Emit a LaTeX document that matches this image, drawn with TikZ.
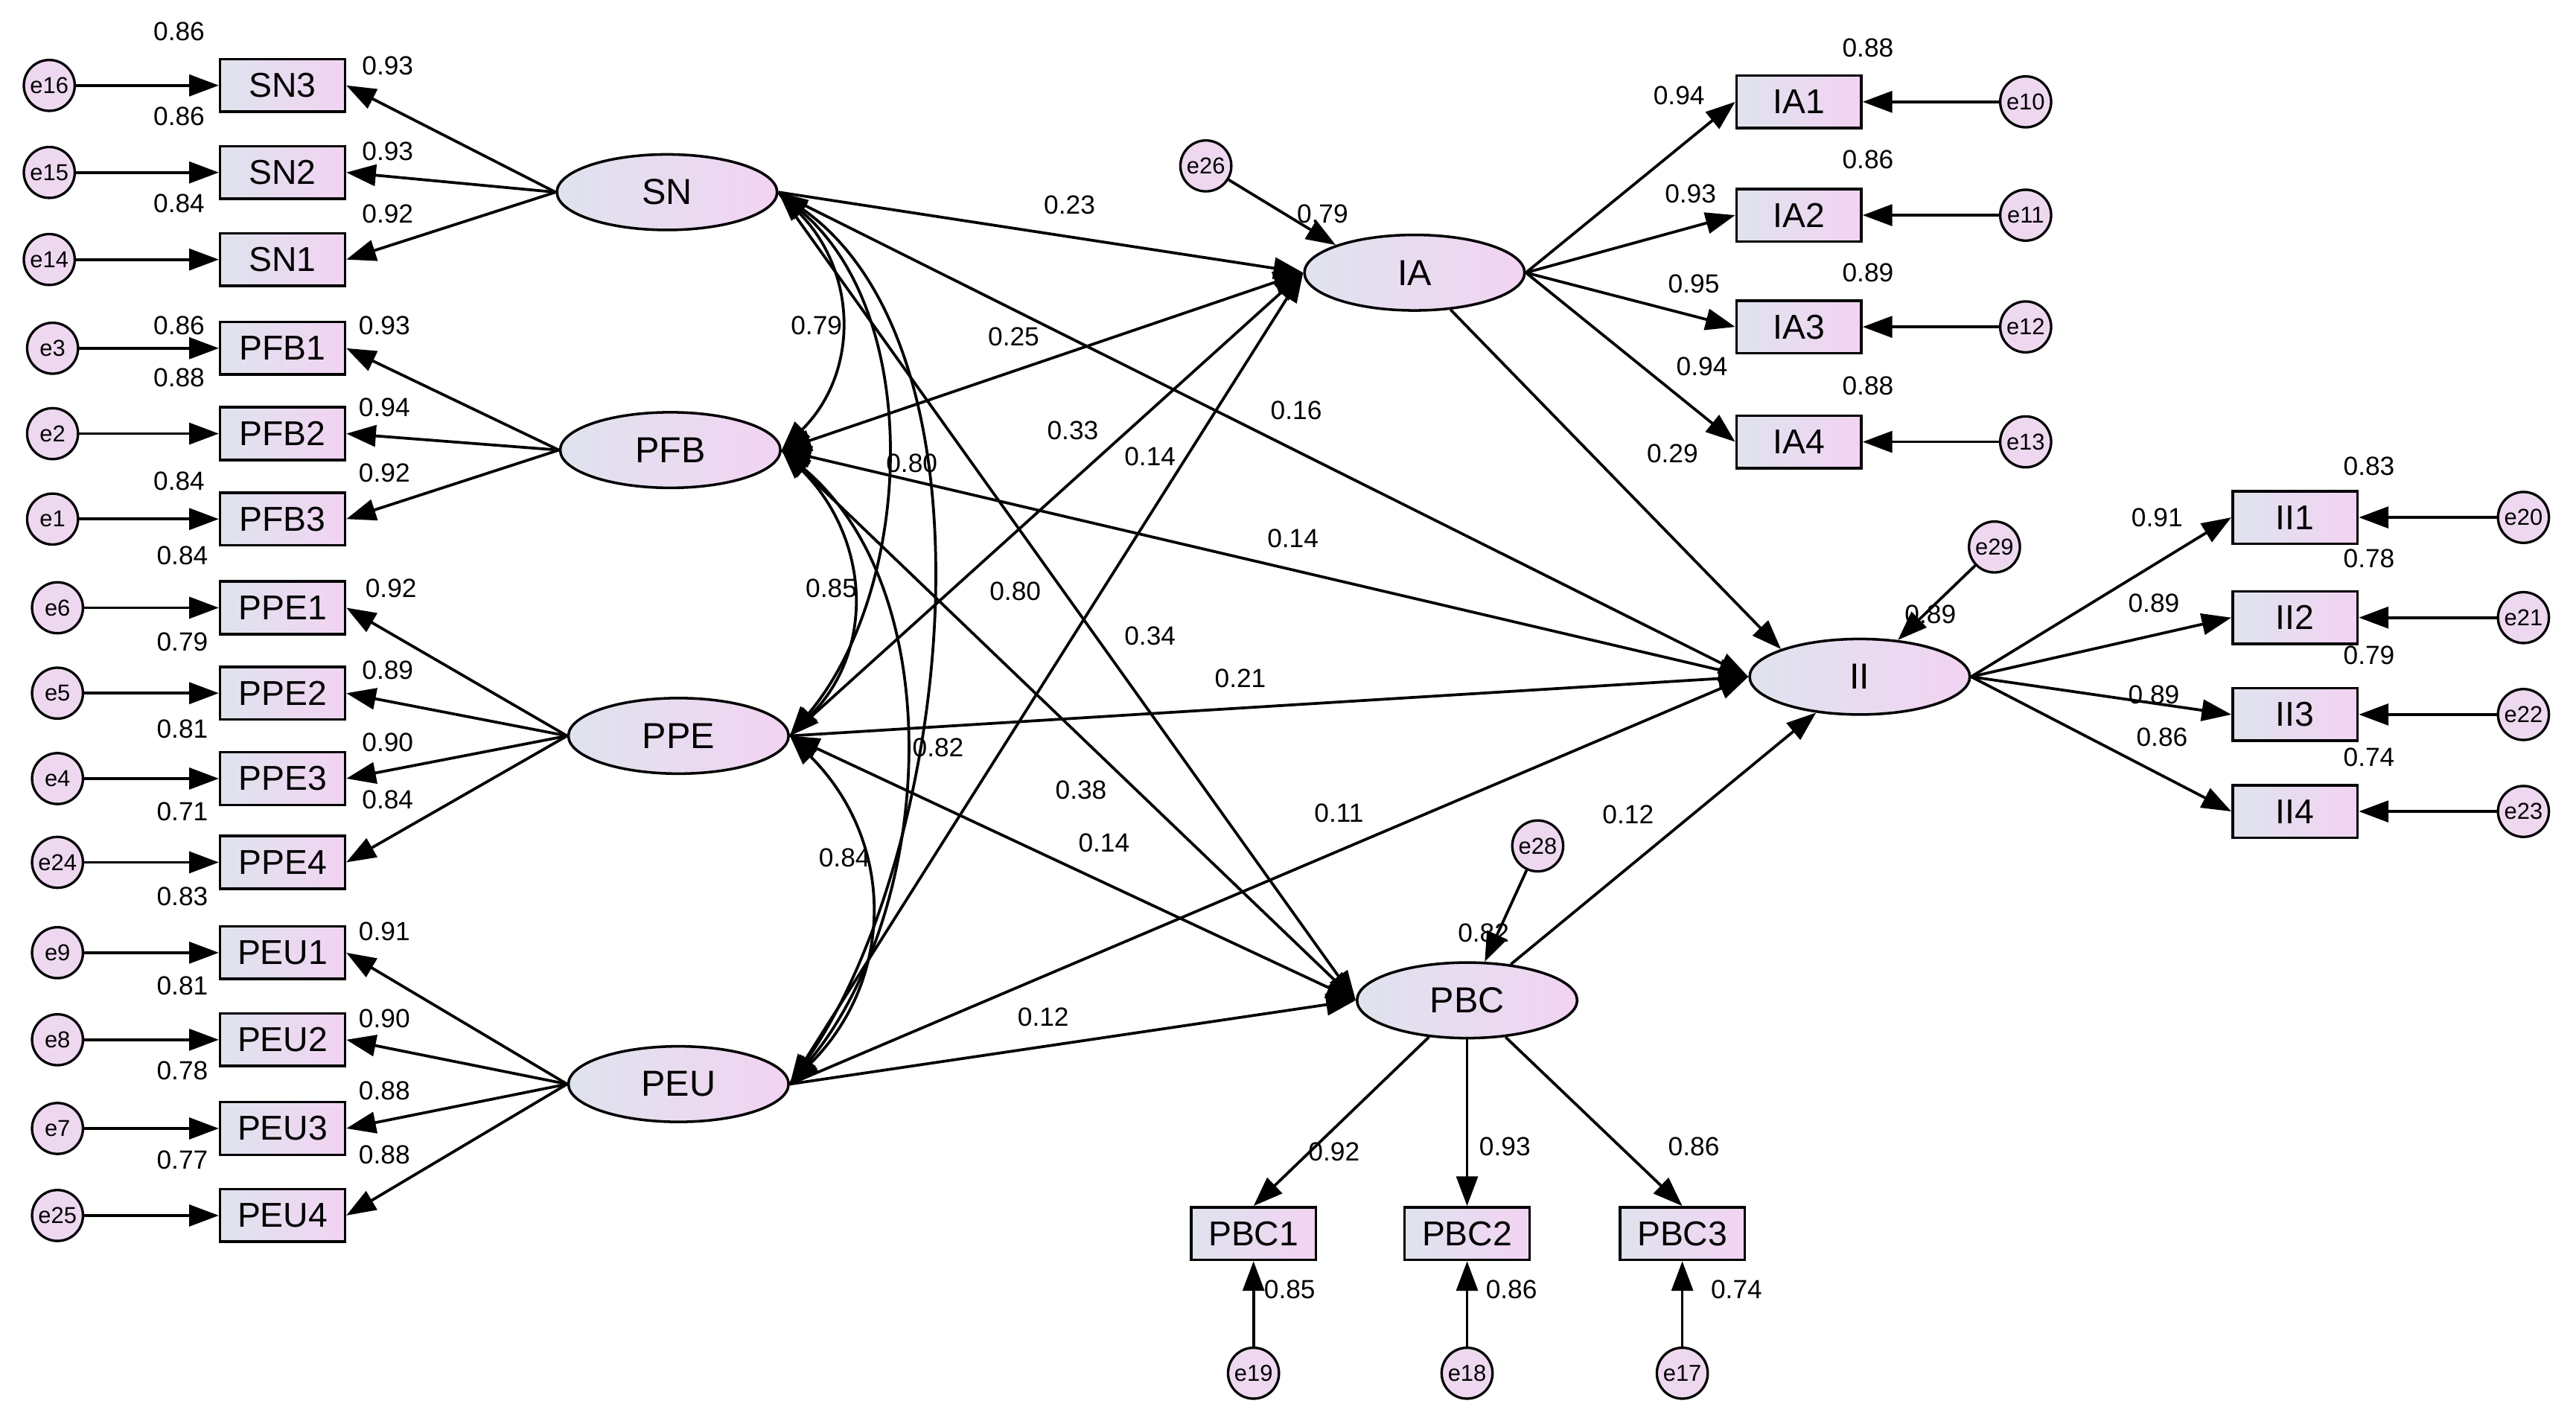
\documentclass[tikz,border=0pt]{standalone}
\usepackage{fontspec}
\setmainfont{Liberation Sans}
\usetikzlibrary{arrows.meta,shapes.geometric}
\definecolor{cl}{HTML}{DFE3EE}
\definecolor{cr}{HTML}{F2D3F2}
\definecolor{ce}{HTML}{EED8F0}
\begin{document}
\begin{tikzpicture}[x=1pt,y=-1pt,
 obs/.style={draw,line width=1.6pt,minimum width=76pt,minimum height=32pt,inner sep=1pt,left color=cl,right color=cr,font=\fontsize{21}{21}\selectfont},
 lat/.style={draw,line width=1.6pt,ellipse,minimum width=134pt,minimum height=46pt,inner sep=0pt,left color=cl,right color=cr,font=\fontsize{22}{22}\selectfont},
 err/.style={draw,line width=1.5pt,circle,minimum size=31pt,inner sep=0pt,fill=ce,font=\fontsize{14}{14}\selectfont},
 num/.style={font=\fontsize{16}{16}\selectfont,inner sep=0pt},
 ar/.style={line width=1.7pt,-{Triangle[length=18pt,width=13pt]}},
 cov/.style={line width=1.7pt,{Triangle[length=18pt,width=13pt]}-{Triangle[length=18pt,width=13pt]}}]
\useasboundingbox (0,0) rectangle (1568,865);
\foreach \n/\e/\y/\ex in {SN3/e16/52/30,SN2/e15/105/30,SN1/e14/158/30,PFB1/e3/212/32,PFB2/e2/264/32,PFB3/e1/316/32,PPE1/e6/370/35,PPE2/e5/422/35,PPE3/e4/474/35,PPE4/e24/525/35,PEU1/e9/580/35,PEU2/e8/633/35,PEU3/e7/687/35,PEU4/e25/740/35}{
 \node[obs] (\n) at (172,\y) {\n};
 \node[err] (\e) at (\ex,\y) {\e};
 \draw[ar] (\e) -- (\n);
}
\node[lat] (SN) at (406,117) {SN};
\node[lat] (PFB) at (408,274) {PFB};
\node[lat] (PPE) at (413,448) {PPE};
\node[lat] (PEU) at (413,660) {PEU};
\node[lat] (IA) at (861,166) {IA};
\node[lat] (PBC) at (893,609) {PBC};
\node[lat] (II) at (1132,412) {II};
\foreach \l/\a in {SN/SN3,SN/SN2,SN/SN1,PFB/PFB1,PFB/PFB2,PFB/PFB3,PPE/PPE1,PPE/PPE2,PPE/PPE3,PPE/PPE4,PEU/PEU1,PEU/PEU2,PEU/PEU3,PEU/PEU4}{\draw[ar] (\l.west) -- (\a.east);}
\foreach \n/\e/\y in {IA1/e10/62,IA2/e11/131,IA3/e12/199,IA4/e13/269}{
 \node[obs] (\n) at (1095,\y) {\n};
 \node[err] (\e) at (1233,\y) {\e};
 \draw[ar] (\e) -- (\n);
 \draw[ar] (IA.east) -- (\n.west);
}
\foreach \n/\e/\y in {II1/e20/315,II2/e21/376,II3/e22/435,II4/e23/494}{
 \node[obs] (\n) at (1397,\y) {\n};
 \node[err] (\e) at (1536,\y) {\e};
 \draw[ar] (\e) -- (\n);
 \draw[ar] (II.east) -- (\n.west);
}
\foreach \n/\e/\x in {PBC1/e19/763,PBC2/e18/893,PBC3/e17/1024}{
 \node[obs] (\n) at (\x,751) {\n};
 \node[err] (\e) at (\x,836) {\e};
 \draw[ar] (\e) -- (\n);
 \draw[ar] (PBC) -- (\n.north);
}
\node[err] (e26) at (734,101) {e26};
\node[err] (e29) at (1214,333) {e29};
\node[err] (e28) at (936,515) {e28};
\draw[ar] (e26) -- (IA.north west);
\draw[ar] (e29) -- (II);
\draw[ar] (e28) -- (PBC);
\foreach \a in {SN,PPE,PEU}{\draw[ar] (\a.east) -- (IA.west);}
\draw[cov] (PFB.east) -- (IA.west);
\foreach \a in {SN,PPE,PEU}{\draw[ar] (\a.east) -- (II.west);}
\draw[cov] (PFB.east) -- (II.west);
\foreach \a in {SN,PFB,PEU}{\draw[ar] (\a.east) -- (PBC.west);}
\draw[cov] (PPE.east) -- (PBC.west);
\draw[ar] (IA) -- (II.north west);
\draw[ar] (PBC) -- (II);
\draw[cov] (SN.east) to[out=-45,in=45,looseness=1.1] (PFB.east);
\draw[cov] (PFB.east) to[out=-45,in=45,looseness=1.1] (PPE.east);
\draw[cov] (PPE.east) to[out=-45,in=45,looseness=1.1] (PEU.east);
\draw[cov] (SN.east) to[out=-40,in=50,looseness=0.9] (PPE.east);
\draw[cov] (PFB.east) to[out=-40,in=50,looseness=0.9] (PEU.east);
\draw[cov] (SN.east) to[out=-35,in=55,looseness=0.8] (PEU.east);
\foreach \t/\x/\y in {0.86/109/19,0.86/109/71,0.84/109/124,0.86/109/198,0.88/109/230,0.84/109/293,0.84/111/338,0.79/111/391,0.81/111/444,0.71/111/494,0.83/111/546,0.81/111/600,0.78/111/652,0.77/111/706,
0.93/236/40,0.93/236/92,0.92/236/130,0.93/234/198,0.94/234/248,0.92/234/288,0.92/238/358,0.89/236/408,0.90/236/452,0.84/236/487,0.91/234/567,0.90/234/620,0.88/234/664,0.88/234/703,
0.94/1022/58,0.93/1029/118,0.95/1031/173,0.94/1036/223,0.88/1137/29,0.86/1137/97,0.89/1137/166,0.88/1137/235,0.79/805/130,
0.91/1313/315,0.89/1311/367,0.89/1311/423,0.86/1316/449,0.83/1442/284,0.78/1442/340,0.79/1442/399,0.74/1442/461,0.89/1175/374,
0.92/812/701,0.93/916/698,0.86/1031/698,0.85/785/785,0.86/920/785,0.74/1057/785,0.82/903/568,
0.23/651/125,0.25/617/205,0.16/789/250,0.33/653/262,0.14/700/278,0.29/1018/276,0.14/787/328,0.34/700/387,0.21/755/413,0.38/658/481,0.14/672/513,0.11/815/495,0.12/991/496,0.12/635/619,
0.79/497/198,0.80/555/282,0.85/506/358,0.80/618/360,0.82/571/455,0.84/514/522}{\node[num] at (\x,\y) {\t};}
\end{tikzpicture}
\end{document}
